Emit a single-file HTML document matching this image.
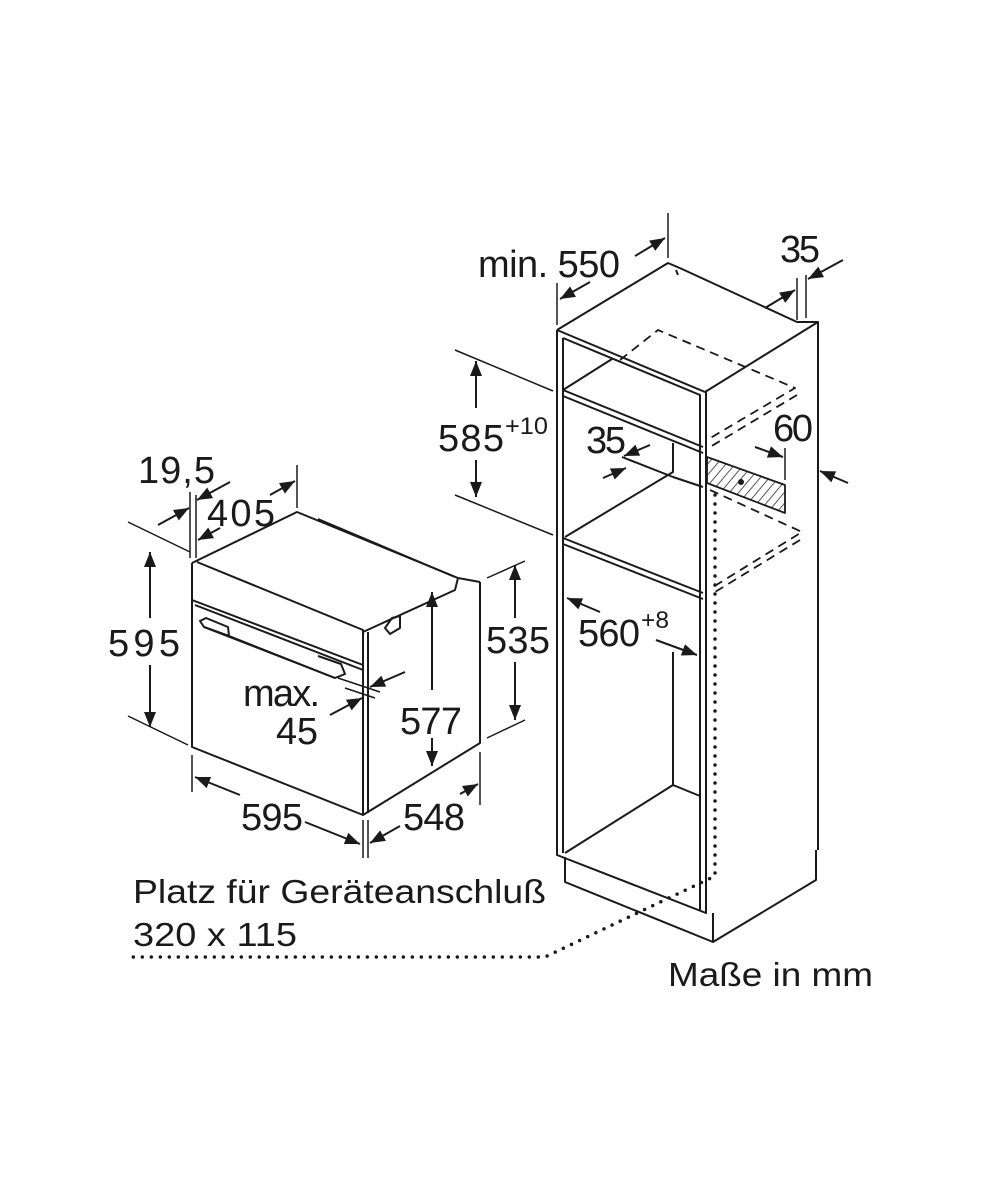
<!DOCTYPE html>
<html><head><meta charset="utf-8"><style>
html,body{margin:0;padding:0;background:#fff;}
svg{display:block;}
text{font-family:"Liberation Sans",sans-serif;fill:#1a1a1a;}
</style></head><body>
<svg width="1000" height="1200" viewBox="0 0 1000 1200" xmlns="http://www.w3.org/2000/svg">
<defs>
<marker id="a" viewBox="0 0 10 10" refX="10" refY="5" markerWidth="15" markerHeight="15" markerUnits="userSpaceOnUse" orient="auto"><path d="M0,1 L10,5 L0,9 z" fill="#1a1a1a"/></marker>
<pattern id="h" width="7" height="7" patternUnits="userSpaceOnUse" patternTransform="rotate(40)"><line x1="0" y1="0" x2="0" y2="7" stroke="#222" stroke-width="1.5"/></pattern>
</defs>
<g stroke="#1a1a1a" stroke-width="2" fill="none" stroke-linejoin="round">
<!-- OVEN -->
<path d="M192,563 L192,747 L363,815 L480,743 L480,582"/>
<path d="M192,563 L297,512 L458,578 L480,582"/>
<path d="M197,562 L363,630 L363,815"/>
<line x1="368" y1="632" x2="368" y2="813"/>
<path d="M363,632 L455,590 L458,578"/>
<path d="M318,519 L455,577"/>
<path d="M192,600 L363,665"/>
<path d="M195,605 L363,670"/>
<path d="M200,621 L206,618 L228,627 L229,636 L204,627 Z"/>
<path d="M204,627 L335,678 L345,674 L341,664 L318,656"/>
<path d="M335,678 L229,636"/>
<path d="M385,628 L392,618 L400,616 L400,628 L390,634 Z"/>
<!-- oven dimensions -->
<line x1="128" y1="522" x2="190" y2="552" stroke-width="1.5"/>
<line x1="128" y1="716" x2="188" y2="745" stroke-width="1.5"/>
<line x1="150" y1="618" x2="150" y2="552" marker-end="url(#a)"/>
<line x1="150" y1="665" x2="150" y2="727" marker-end="url(#a)"/>
<line x1="487" y1="578" x2="525" y2="561" stroke-width="1.5"/>
<line x1="487" y1="738" x2="525" y2="720" stroke-width="1.5"/>
<line x1="515" y1="618" x2="515" y2="565" marker-end="url(#a)"/>
<line x1="515" y1="662" x2="515" y2="720" marker-end="url(#a)"/>
<line x1="432" y1="690" x2="432" y2="592" marker-end="url(#a)"/>
<line x1="432" y1="738" x2="432" y2="766" marker-end="url(#a)"/>
<line x1="192" y1="755" x2="192" y2="792" stroke-width="1.5"/>
<line x1="363" y1="820" x2="363" y2="858" stroke-width="1.5"/>
<line x1="368" y1="820" x2="368" y2="858" stroke-width="1.5"/>
<line x1="480" y1="752" x2="480" y2="805" stroke-width="1.5"/>
<line x1="240" y1="795" x2="195" y2="777" marker-end="url(#a)"/>
<line x1="305" y1="822" x2="360" y2="844" marker-end="url(#a)"/>
<line x1="400" y1="826" x2="370" y2="843" marker-end="url(#a)"/>
<line x1="460" y1="794" x2="478" y2="784" marker-end="url(#a)"/>
<line x1="190" y1="492" x2="190" y2="558" stroke-width="1.5"/>
<line x1="196" y1="495" x2="196" y2="558" stroke-width="1.5"/>
<line x1="158" y1="525" x2="189" y2="508" marker-end="url(#a)"/>
<line x1="230" y1="482" x2="197" y2="500" marker-end="url(#a)"/>
<line x1="297" y1="465" x2="297" y2="508" stroke-width="1.5"/>
<line x1="220" y1="528" x2="198" y2="540" marker-end="url(#a)"/>
<line x1="270" y1="495" x2="295" y2="481" marker-end="url(#a)"/>
<line x1="338" y1="678" x2="380" y2="692" stroke-width="1.5"/>
<line x1="345" y1="688" x2="375" y2="698" stroke-width="1.5"/>
<line x1="405" y1="672" x2="370" y2="687" marker-end="url(#a)"/>
<line x1="330" y1="715" x2="362" y2="698" marker-end="url(#a)"/>
<!-- CABINET -->
<path d="M557,330 L668,263 L682,269 L797,322 L818,322 L818,850"/>
<path d="M676,270 L678,275"/>
<path d="M557,330 L705,392 L818,322"/>
<path d="M557,330 L557,855 L706,913 L706,392"/>
<path d="M563,338 L700,395 L700,910"/>
<path d="M563,338 L563,853"/>
<path d="M563,390 L703,447 M563,396 L703,453"/>
<path d="M563,390 L612,359"/>
<path d="M563,538 L703,593 M563,544 L703,599"/>
<path d="M565,537 L673,472 L673,443"/>
<path d="M622,457 L673,477 M673,477 L703,487"/>
<path d="M673,652 L673,785 L565,853 M673,785 L700,796"/>
<path d="M565,857 L565,882 L713,942 L816,880 L816,850"/>
<line x1="713" y1="913" x2="713" y2="942"/>
<g stroke-dasharray="9,6" stroke-width="1.8">
<path d="M620,360 L658,330 L795,388 L707,440"/>
<path d="M797,395 L710,447"/>
<path d="M710,490 L802,532 L713,587"/>
<path d="M800,540 L715,592"/>
</g>
<path d="M707,457 L785,485 L785,513 L707,483 Z" fill="url(#h)" stroke-width="1.8"/>
<circle cx="741" cy="482" r="2" fill="#1a1a1a"/>
<g stroke-dasharray="0,9" stroke-linecap="round" stroke-width="3.5">
<path d="M715,495 L715,876 L545,957 L133,957"/>
</g>
<!-- cabinet dims -->
<line x1="557" y1="283" x2="557" y2="325" stroke-width="1.5"/>
<line x1="668" y1="213" x2="668" y2="258" stroke-width="1.5"/>
<line x1="590" y1="282" x2="560" y2="299" marker-end="url(#a)"/>
<line x1="635" y1="256" x2="665" y2="238" marker-end="url(#a)"/>
<line x1="797" y1="278" x2="797" y2="320" stroke-width="1.5"/>
<line x1="806" y1="275" x2="806" y2="318" stroke-width="1.5"/>
<line x1="765" y1="308" x2="795" y2="290" marker-end="url(#a)"/>
<line x1="843" y1="260" x2="808" y2="279" marker-end="url(#a)"/>
<line x1="455" y1="350" x2="553" y2="391" stroke-width="1.5"/>
<line x1="455" y1="495" x2="553" y2="535" stroke-width="1.5"/>
<line x1="476" y1="408" x2="476" y2="361" marker-end="url(#a)"/>
<line x1="476" y1="460" x2="476" y2="497" marker-end="url(#a)"/>
<line x1="785" y1="448" x2="785" y2="480" stroke-width="1.5"/>
<line x1="755" y1="447" x2="783" y2="457" marker-end="url(#a)"/>
<line x1="650" y1="445" x2="624" y2="456" marker-end="url(#a)"/>
<line x1="603" y1="478" x2="626" y2="468" marker-end="url(#a)"/>
<line x1="848" y1="483" x2="820" y2="471" marker-end="url(#a)"/>
<line x1="600" y1="612" x2="567" y2="598" marker-end="url(#a)"/>
<line x1="656" y1="640" x2="697" y2="655" marker-end="url(#a)"/>
</g>
<!-- TEXT -->
<g font-size="38" lengthAdjust="spacingAndGlyphs">
<text x="138" y="483" textLength="77">19,5</text>
<text x="207" y="526" textLength="68">405</text>
<text x="108" y="656" textLength="72">595</text>
<text x="486" y="653" textLength="64">535</text>
<text x="243" y="706" textLength="77">max.</text>
<text x="276" y="744" textLength="42">45</text>
<text x="400" y="734" textLength="62">577</text>
<text x="241" y="830" textLength="62">595</text>
<text x="403" y="830" textLength="62">548</text>
<text x="478" y="277" textLength="142">min. 550</text>
<text x="780" y="262" textLength="40">35</text>
<text x="438" y="451" textLength="66">585</text>
<text x="586" y="453" textLength="40">35</text>
<text x="773" y="441" textLength="40">60</text>
<text x="578" y="646" textLength="62">560</text>
</g>
<g font-size="24">
<text x="505" y="434" textLength="43" lengthAdjust="spacingAndGlyphs">+10</text>
<text x="641" y="628" textLength="28" lengthAdjust="spacingAndGlyphs">+8</text>
</g>
<g font-size="33">
<text x="133" y="903" textLength="413" lengthAdjust="spacingAndGlyphs">Platz für Geräteanschluß</text>
<text x="133" y="946" textLength="164" lengthAdjust="spacingAndGlyphs">320 x 115</text>
<text x="668" y="986" textLength="205" lengthAdjust="spacingAndGlyphs">Maße in mm</text>
</g>
</svg>
</body></html>
